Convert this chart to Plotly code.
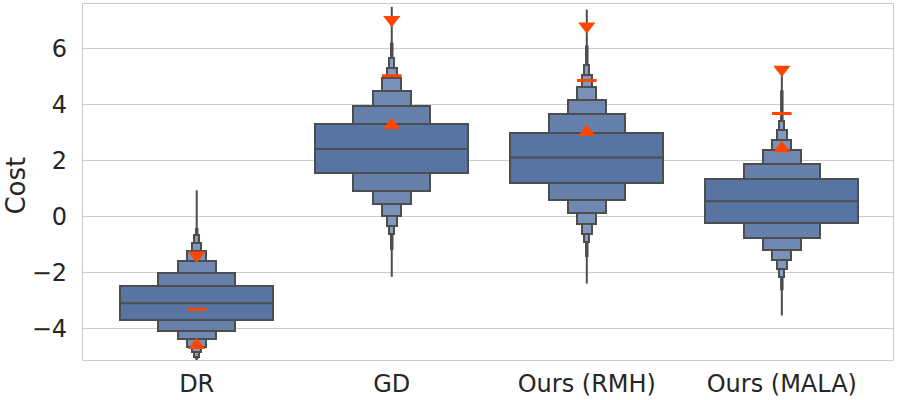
import plotly.graph_objects as go

categories = ["DR", "GD", "Ours (RMH)", "Ours (MALA)"]

# letter-value boxes, innermost level first
upper = [
    [-2.50, -2.02, -1.60, -1.25, -0.95, -0.68],
    [3.29, 3.93, 4.48, 4.94, 5.30, 5.65],
    [2.98, 3.65, 4.17, 4.62, 5.04, 5.42],
    [1.33, 1.88, 2.36, 2.74, 3.07, 3.40],
]
lower = [
    [-3.70, -4.09, -4.39, -4.66, -4.86, -5.04],
    [1.55, 0.89, 0.45, 0.00, -0.35, -0.64],
    [1.19, 0.57, 0.12, -0.29, -0.64, -0.92],
    [-0.23, -0.77, -1.21, -1.57, -1.89, -2.17],
]
medians = [-3.10, 2.40, 2.10, 0.54]
tail_hi = [-0.42, 6.2, 6.1, 4.5]
tail_lo = [-5.10, -1.20, -1.45, -2.64]
whisk_hi = [0.93, 7.48, 7.38, 5.20]
whisk_lo = [-5.30, -2.16, -2.40, -3.54]

marker_down = [-1.39, 7.02, 6.79, 5.24]
marker_dash = [-3.32, 5.02, 4.85, 3.67]
marker_up = [-4.60, 3.25, 3.01, 2.42]

fills = ["#5874a3", "#6580ab", "#6f88b2", "#7a91b8", "#8299bd", "#8aa0c2"]
edge = "#4d4d4d"
box_w = 0.785
xs = list(range(len(categories)))

fig = go.Figure()

# boxes, outermost (narrowest) first
n_levels = len(fills)
for k in reversed(range(n_levels)):
    fig.add_trace(go.Bar(
        x=xs,
        y=[upper[i][k] - lower[i][k] for i in xs],
        base=[lower[i][k] for i in xs],
        width=box_w / 2 ** k,
        marker=dict(color=fills[k], line=dict(color=edge, width=2)),
        showlegend=False, hoverinfo="skip",
    ))

# whiskers and thin tails, only outside the boxes
for i in xs:
    lo, hi = lower[i][-1], upper[i][-1]
    fig.add_trace(go.Scatter(x=[i, i, None, i, i], y=[whisk_lo[i], lo, None, hi, whisk_hi[i]],
                             mode="lines", line=dict(color=edge, width=2),
                             showlegend=False, hoverinfo="skip"))
    fig.add_trace(go.Scatter(x=[i, i, None, i, i], y=[tail_lo[i], lo, None, hi, tail_hi[i]],
                             mode="lines", line=dict(color=edge, width=3.5),
                             showlegend=False, hoverinfo="skip"))

# medians
for i in xs:
    fig.add_trace(go.Scatter(x=[i - box_w / 2, i + box_w / 2], y=[medians[i], medians[i]],
                             mode="lines", line=dict(color=edge, width=2),
                             showlegend=False, hoverinfo="skip"))

red = "#ff4500"
fig.add_trace(go.Scatter(x=xs, y=marker_down, mode="markers",
                         marker=dict(symbol="triangle-down", size=15, color=red), showlegend=False))
fig.add_trace(go.Scatter(x=xs, y=marker_dash, mode="markers",
                         marker=dict(symbol="line-ew", size=14, line=dict(color=red, width=3)),
                         showlegend=False))
fig.add_trace(go.Scatter(x=xs, y=marker_up, mode="markers",
                         marker=dict(symbol="triangle-up", size=15, color=red), showlegend=False))

fig.update_layout(
    width=900, height=400,
    margin=dict(l=83, r=7, t=4, b=40),
    barmode="overlay", bargap=0,
    plot_bgcolor="white", paper_bgcolor="white",
    font=dict(family="DejaVu Sans", size=24, color="#262626"),
    annotations=[dict(text="Cost", xref="paper", yref="paper", x=0, y=0.49,
                      xshift=-67, textangle=-90, showarrow=False,
                      font=dict(family="DejaVu Sans", size=26, color="#262626"),
                      xanchor="center", yanchor="middle")],
)
fig.update_xaxes(
    range=[-0.583, 3.57], tickvals=xs, ticktext=categories, automargin=False,
    showgrid=False, zeroline=False, showline=True, mirror=True,
    linecolor="#cccccc", linewidth=1.2, ticks="", ticklabelstandoff=2,
)
fig.update_yaxes(
    range=[-5.13, 7.58], tickvals=[-4, -2, 0, 2, 4, 6], automargin=False,
    showgrid=True, gridcolor="#cccccc", gridwidth=1.2, zeroline=False,
    showline=True, mirror=True, linecolor="#cccccc", linewidth=1.2,
    ticks="", ticklabelstandoff=10,
)

# drop the browser's default page margin so the figure sits at the window corner
fig.write_html("out.html", config={"displayModeBar": False},
               post_script="document.body.style.margin='0';")
